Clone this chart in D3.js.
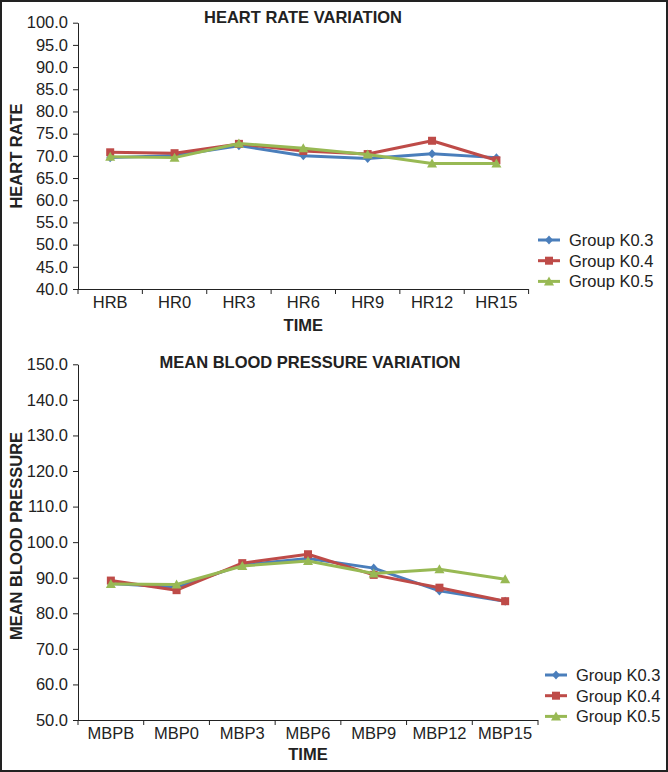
<!DOCTYPE html>
<html>
<head>
<meta charset="utf-8">
<script src="https://cdn.jsdelivr.net/npm/d3@7"></script>
<style>
  html, body { margin: 0; padding: 0; background: #fff; }
  svg { display: block; font-family: "Liberation Sans", Arial, Helvetica, sans-serif; }
</style>
</head>
<body>
<svg id="chart" width="668" height="772"></svg>
<script>
// ---- Data ----
const seriesNames = ["Group K0.3", "Group K0.4", "Group K0.5"];
const seriesColors = ["#4a7ebb", "#be4b48", "#98b954"];
const seriesMarkers = ["diamond", "square", "triangle"];

const hrCategories = ["HRB", "HR0", "HR3", "HR6", "HR9", "HR12", "HR15"];
const hrK03 = [69.6, 70.1, 72.3, 70.0, 69.4, 70.5, 69.6];
const hrK04 = [70.8, 70.6, 72.7, 71.1, 70.4, 73.4, 69.0];
const hrK05 = [69.8, 69.6, 72.8, 71.7, 70.3, 68.3, 68.3];
const hrTicks = [40, 45, 50, 55, 60, 65, 70, 75, 80, 85, 90, 95, 100];

const mbpCategories = ["MBPB", "MBP0", "MBP3", "MBP6", "MBP9", "MBP12", "MBP15"];
const mbpK03 = [88.4, 87.3, 93.6, 95.4, 92.7, 86.3, 83.4];
const mbpK04 = [89.2, 86.5, 94.1, 96.6, 90.8, 87.2, 83.4];
const mbpK05 = [88.2, 88.1, 93.3, 94.7, 91.2, 92.4, 89.6];
const mbpTicks = [50, 60, 70, 80, 90, 100, 110, 120, 130, 140, 150];

const FS = 16.5;
const svg = d3.select("#chart");

// outer frame
svg.append("rect").attr("x", 1).attr("y", 1).attr("width", 666).attr("height", 770)
  .attr("fill", "none").attr("stroke", "#222").attr("stroke-width", 2);

function marker(g, type, color, cx, cy) {
  if (type === "diamond") {
    g.append("path").attr("d", `M${cx},${cy-4.5}L${cx+4},${cy}L${cx},${cy+4.5}L${cx-4},${cy}Z`).attr("fill", color);
  } else if (type === "square") {
    g.append("rect").attr("x", cx-4).attr("y", cy-4).attr("width", 8).attr("height", 8).attr("fill", color);
  } else {
    g.append("path").attr("d", `M${cx},${cy-5}L${cx+5},${cy+4}L${cx-5},${cy+4}Z`).attr("fill", color);
  }
}

function drawChart(opts) {
  const { categories, series, ticks, yDomain, x0, x1, yTop, yBottom, title, titleX, titleY,
          yLabel, yLabelY, xLabelY, tickLabelY, legendX, legendY } = opts;
  const g = svg.append("g");
  const x = d3.scaleBand().domain(categories).range([x0, x1]).padding(0);
  const y = d3.scaleLinear().domain(yDomain).range([yBottom, yTop]);

  // y axis
  const ya = g.append("g").attr("transform", `translate(${x0},0)`)
    .call(d3.axisLeft(y).tickValues(ticks).tickFormat(d3.format(".1f")).tickSize(5).tickSizeOuter(0).tickPadding(5));
  ya.select(".domain").attr("stroke", "#222");
  ya.selectAll(".tick line").attr("stroke", "#222");
  ya.selectAll(".tick text").attr("font-size", FS).attr("fill", "#222").attr("font-family", "Liberation Sans, Arial, sans-serif");

  // x axis (labels centered, ticks at boundaries)
  const xa = g.append("g").attr("transform", `translate(0,${yBottom})`)
    .call(d3.axisBottom(x).tickSize(0).tickPadding(tickLabelY - yBottom));
  xa.select(".domain").attr("stroke", "#222").attr("d", `M${x0},0.5H${x1}`);
  xa.selectAll(".tick text").attr("font-size", FS).attr("fill", "#222").attr("dy", "0.32em")
    .attr("font-family", "Liberation Sans, Arial, sans-serif");
  const bounds = categories.map(c => x(c)).concat([x1]);
  xa.selectAll(".bound").data(bounds).join("line").attr("class", "bound")
    .attr("x1", d => d).attr("x2", d => d).attr("y1", 0).attr("y2", 5).attr("stroke", "#222");

  // lines + markers
  series.forEach((s, i) => {
    const line = d3.line().x((d, j) => x(categories[j]) + x.bandwidth() / 2).y(d => y(d));
    g.append("path").datum(s).attr("d", line).attr("fill", "none")
      .attr("stroke", seriesColors[i]).attr("stroke-width", 3).attr("stroke-linejoin", "round");
    const mg = g.append("g");
    s.forEach((v, j) => marker(mg, seriesMarkers[i], seriesColors[i], x(categories[j]) + x.bandwidth() / 2, y(v)));
  });

  // titles
  g.append("text").attr("x", titleX).attr("y", titleY).attr("text-anchor", "middle")
    .attr("font-size", FS).attr("font-weight", "bold").attr("fill", "#222").text(title);
  g.append("text").attr("transform", `translate(22,${yLabelY}) rotate(-90)`).attr("text-anchor", "middle")
    .attr("font-size", FS).attr("font-weight", "bold").attr("fill", "#222").text(yLabel);
  g.append("text").attr("x", (x0 + x1) / 2).attr("y", xLabelY).attr("text-anchor", "middle")
    .attr("font-size", FS).attr("font-weight", "bold").attr("fill", "#222").text("TIME");

  // legend
  seriesNames.forEach((n, i) => {
    const ly = legendY + i * 20.7;
    g.append("line").attr("x1", legendX).attr("x2", legendX + 22).attr("y1", ly).attr("y2", ly)
      .attr("stroke", seriesColors[i]).attr("stroke-width", 3);
    marker(g, seriesMarkers[i], seriesColors[i], legendX + 11, ly);
    g.append("text").attr("x", legendX + 31).attr("y", ly + 6).attr("font-size", FS)
      .attr("fill", "#222").text(n);
  });
}

drawChart({
  categories: hrCategories, series: [hrK03, hrK04, hrK05], ticks: hrTicks, yDomain: [40, 100],
  x0: 78, x1: 528.6, yTop: 22.7, yBottom: 289,
  title: "HEART RATE VARIATION", titleX: 303, titleY: 23,
  yLabel: "HEART RATE", yLabelY: 156, xLabelY: 331, tickLabelY: 303,
  legendX: 538, legendY: 240
});

drawChart({
  categories: mbpCategories, series: [mbpK03, mbpK04, mbpK05], ticks: mbpTicks, yDomain: [50, 150],
  x0: 78, x1: 538, yTop: 364.3, yBottom: 720,
  title: "MEAN BLOOD PRESSURE VARIATION", titleX: 310, titleY: 368,
  yLabel: "MEAN BLOOD PRESSURE", yLabelY: 536, xLabelY: 760, tickLabelY: 734,
  legendX: 545, legendY: 675
});
</script>
</body>
</html>
